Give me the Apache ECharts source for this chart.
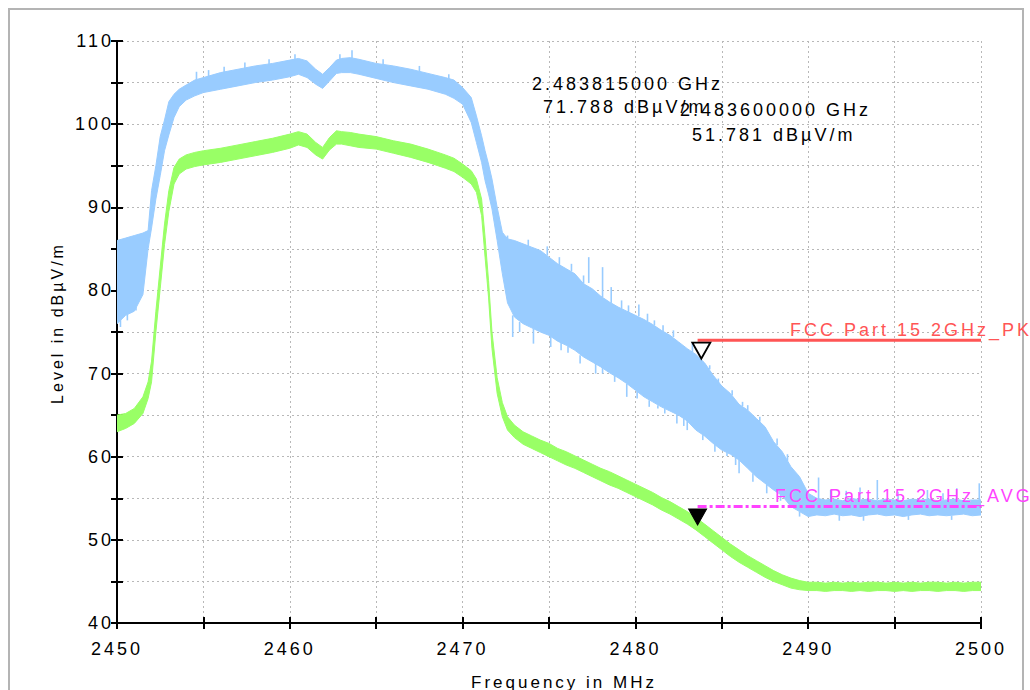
<!DOCTYPE html>
<html>
<head>
<meta charset="utf-8">
<script src="https://cdn.jsdelivr.net/npm/echarts@6/dist/echarts.min.js"></script>
<style>
  html, body { margin: 0; padding: 0; background: #fff; }
  #chart { width: 1030px; height: 690px; }
  #chart text { letter-spacing: 3px; }
</style>
</head>
<body>
<div id="chart"></div>
<script>
// ---- data ----
const freqMHz = [2450, 2450.5, 2451, 2451.5, 2451.8, 2452, 2452.25, 2452.5, 2452.75, 2453, 2453.3, 2453.6, 2454, 2454.5, 2455,
  2456, 2457, 2458, 2459, 2460,
  2460.5, 2461, 2461.5, 2461.9, 2462.3, 2462.7, 2463, 2463.5, 2464,
  2465, 2466, 2467, 2468, 2469,
  2469.5, 2470, 2470.5, 2470.8, 2471.1, 2471.3, 2471.5, 2471.7, 2472, 2472.3, 2472.6,
  2473, 2473.5, 2474, 2474.5, 2475, 2475.5, 2476, 2476.5, 2477, 2477.5, 2478, 2478.5, 2479, 2479.5, 2480,
  2480.5, 2481, 2481.5, 2482, 2482.5, 2483, 2483.5, 2484, 2484.5, 2485, 2485.5, 2486, 2486.5, 2487, 2487.5,
  2488, 2488.5, 2489, 2489.5, 2490, 2490.5, 2491, 2491.5, 2492, 2492.5, 2493, 2493.5, 2494, 2494.5, 2495,
  2495.5, 2496, 2496.5, 2497, 2497.5, 2498, 2498.5, 2499, 2499.5, 2500];

// Peak trace (blue) envelope
const peakUpper = [86.0, 86.3, 86.6, 86.9, 87.2, 92.0, 95.0, 98.5, 100.5, 102.7, 103.6, 104.2, 104.7, 105.3, 105.6,
  106.2, 106.6, 107.0, 107.3, 107.7,
  107.9, 107.6, 106.6, 106.0, 106.8, 107.7, 107.9, 108.0, 107.8,
  107.3, 107.0, 106.6, 106.1, 105.6,
  105.3, 104.4, 103.2, 101.0, 98.6, 96.8, 95.2, 93.4, 90.0, 87.0, 86.2,
  86.0, 85.6, 85.2, 84.8, 84.0, 83.2, 82.6, 82.0, 80.8, 80.2, 79.3, 78.6, 78.0, 77.5, 77.0,
  76.5, 75.9, 75.2, 74.6, 73.8, 73.0, 72.3, 71.3, 69.8, 68.5, 67.6, 66.3, 65.6, 64.6, 63.6,
  61.8, 60.6, 58.8, 57.6, 55.6, 55.0, 54.8, 54.9, 54.7, 55.0, 54.8, 54.9, 54.7, 54.9, 54.8,
  54.7, 54.9, 54.8, 54.9, 54.7, 54.8, 54.9, 54.7, 54.8, 54.8];
const peakLower = [76.0, 77.0, 77.5, 79.5, 85.0, 87.5, 91.0, 93.8, 96.8, 98.7, 100.8, 102.1, 102.9, 103.4, 103.8,
  104.2, 104.6, 105.0, 105.3, 105.7,
  106.0, 105.6, 104.8, 104.3, 105.2, 106.1, 106.2, 106.2, 106.0,
  105.5, 105.0, 104.6, 104.2, 103.6,
  103.1, 102.4, 100.2, 97.8, 95.4, 93.2, 91.6, 89.8, 86.0, 82.0, 78.5,
  76.8, 76.0, 75.5, 75.0, 74.6, 73.9, 73.4, 72.8, 72.0, 71.4, 70.8, 70.1, 69.5, 68.8, 68.0,
  67.2, 66.6, 66.0, 65.5, 65.0, 64.3, 63.2, 62.5, 61.6, 60.8, 60.3, 59.6, 58.6, 57.6, 56.8,
  56.0, 55.3, 54.0, 53.4, 52.8, 53.0, 52.9, 53.1, 52.9, 53.0, 52.8, 53.0, 53.1, 52.9, 53.0,
  52.8, 53.0, 53.1, 52.9, 53.0, 52.9, 53.0, 53.1, 52.9, 53.0];

// Average trace (green) envelope
const avgUpper = [65.0, 65.2, 65.8, 67.2, 69.0, 71.5, 77.5, 82.8, 88.0, 92.0, 94.8, 95.8, 96.3, 96.6, 96.8,
  97.1, 97.5, 97.9, 98.3, 98.8,
  99.1, 98.8, 97.8, 97.2, 98.4, 99.2, 99.1, 99.0, 98.8,
  98.5, 98.0, 97.6, 97.0, 96.3,
  95.9, 95.2, 94.4, 93.4, 91.0, 86.4, 81.2, 75.0, 69.5, 66.5, 64.8,
  63.8, 63.0, 62.5, 62.0, 61.6, 61.0, 60.6, 60.1, 59.6, 59.1, 58.6, 58.2, 57.7, 57.2, 56.7,
  56.2, 55.7, 55.1, 54.6, 54.0, 53.4, 52.7, 51.9, 51.1, 50.3, 49.5, 48.8, 48.1, 47.5, 46.9,
  46.3, 45.8, 45.4, 45.1, 44.9, 44.9, 44.8, 44.9, 44.8, 44.9, 44.8, 44.9, 44.9, 44.8, 44.9,
  44.8, 44.9, 44.8, 44.9, 44.9, 44.8, 44.9, 44.8, 44.9, 44.9];
const avgLower = [63.0, 63.4, 64.0, 65.2, 67.0, 69.0, 75.0, 80.2, 85.5, 89.5, 92.8, 94.0, 94.6, 94.9, 95.1,
  95.4, 95.8, 96.2, 96.6, 97.1,
  97.5, 97.2, 96.3, 95.8, 96.9, 97.6, 97.6, 97.4, 97.2,
  97.0, 96.5, 96.0, 95.4, 94.7,
  94.3, 93.6, 92.8, 91.8, 89.0, 84.0, 79.2, 73.0, 67.6, 64.8, 63.2,
  62.3, 61.5, 61.0, 60.5, 60.0, 59.5, 59.0, 58.6, 58.1, 57.6, 57.1, 56.6, 56.2, 55.7, 55.2,
  54.7, 54.2, 53.6, 53.1, 52.5, 51.9, 51.2, 50.4, 49.6, 48.8, 48.0, 47.3, 46.7, 46.1, 45.5,
  45.0, 44.6, 44.2, 44.0, 43.9, 43.9, 43.8, 43.9, 43.9, 43.8, 43.9, 43.8, 43.9, 43.9, 43.8,
  43.9, 43.8, 43.9, 43.9, 43.8, 43.9, 43.9, 43.8, 43.9, 43.9];

// Visible spikes of the peak trace: [MHz, from dB, to dB]
const peakSpikes = [
  [2450.2, 76.5, 75.6], [2450.6, 77.2, 76.4], [2451.1, 78.0, 77.6],
  [2454.6, 105.2, 106.3], [2455.3, 105.6, 106.5], [2456.2, 106.0, 106.9], [2457.4, 106.6, 107.4],
  [2458.8, 107.0, 107.8], [2460.3, 107.6, 108.4], [2462.9, 107.8, 108.4], [2463.6, 107.9, 108.9],
  [2465.4, 107.1, 107.8], [2467.5, 106.3, 107.0], [2469.2, 105.4, 106.0],
  [2472.6, 86.0, 86.6], [2473.8, 85.3, 86.1], [2474.9, 84.2, 85.3], [2475.6, 83.0, 84.0],
  [2476.3, 82.3, 83.2], [2477.0, 80.8, 81.8], [2477.3, 80.9, 84.0], [2478.1, 79.2, 82.8],
  [2478.6, 78.5, 80.4], [2479.2, 77.8, 78.8], [2479.6, 77.4, 78.2], [2480.2, 76.9, 78.3],
  [2480.7, 76.3, 77.2], [2481.1, 75.8, 76.4], [2481.6, 75.1, 75.8], [2482.2, 74.4, 75.2],
  [2483.3, 72.6, 73.8], [2483.7, 72.4, 73.4], [2484.3, 70.5, 71.0], [2484.8, 68.6, 69.4],
  [2485.6, 67.4, 68.0], [2486.2, 66.1, 66.6], [2486.5, 65.6, 66.2], [2487.2, 64.2, 64.8],
  [2488.2, 61.4, 62.2], [2488.8, 59.5, 60.3],
  [2490.6, 54.9, 57.5], [2491.3, 54.8, 56.0], [2492.2, 54.8, 55.9], [2493.0, 54.8, 56.3],
  [2494.0, 54.8, 57.2], [2495.2, 54.8, 55.8], [2496.9, 54.8, 56.0], [2497.8, 54.8, 55.6],
  [2498.6, 54.8, 56.2], [2499.9, 54.8, 56.8],
  [2472.9, 77.0, 74.4], [2473.3, 76.2, 75.0], [2474.1, 75.4, 73.6], [2475.1, 74.5, 73.2],
  [2475.7, 73.7, 72.8], [2476.1, 73.3, 72.5], [2476.8, 72.2, 71.2], [2477.7, 71.2, 70.0],
  [2478.1, 71.0, 70.0], [2478.8, 69.8, 69.0], [2479.5, 68.8, 67.2], [2480.1, 67.9, 67.0],
  [2480.8, 66.8, 66.0], [2481.3, 66.2, 65.8], [2481.7, 65.8, 65.2], [2482.4, 65.1, 64.0],
  [2482.8, 64.6, 63.7], [2483.0, 64.3, 63.2], [2483.9, 62.6, 62.0], [2484.6, 61.4, 60.6],
  [2485.3, 60.5, 60.1], [2485.8, 59.9, 59.0], [2486.0, 59.6, 58.0], [2486.8, 58.0, 57.0],
  [2487.6, 56.6, 55.6], [2488.4, 55.4, 54.7], [2489.5, 53.4, 52.8],
  [2491.8, 53.0, 52.3], [2493.2, 52.9, 52.3], [2495.8, 52.9, 52.4], [2498.3, 52.9, 52.4]
];

// Limit lines
const pkLimitFreq = [2483.6, 2500];
const pkLimitLevel = [74, 74];
const avgLimitFreq = [2483.6, 2500];
const avgLimitLevel = [54, 54];

// Markers
const peakMarker = [2483.815, 71.788];
const avgMarker = [2483.6, 51.781];

// Axis setup
const xMin = 2450, xMax = 2500, xStep = 5;
const yMin = 40, yMax = 110, yStep = 5;

// ---- chart ----
const FONT = '"Liberation Sans", Arial, sans-serif';
const BLUE = '#99ccff', GREEN = '#99ff66';
const chart = echarts.init(document.getElementById('chart'), null, { renderer: 'svg' });

function bandRenderer(lower, upper, color) {
  return function (params, api) {
    const pts = [];
    for (let i = 0; i < freqMHz.length; i++) pts.push(api.coord([freqMHz[i], upper[i]]));
    for (let i = freqMHz.length - 1; i >= 0; i--) pts.push(api.coord([freqMHz[i], lower[i]]));
    return { type: 'polygon', shape: { points: pts }, style: { fill: color, stroke: color, lineWidth: 1 } };
  };
}

const gridPos = { left: 117, right: 49, top: 41, bottom: 67, outerBoundsMode: 'none' };
const tickFmt = (v) => (Math.round(v) % 10 === 0 ? String(Math.round(v)) : '');

const option = {
  animation: false,
  backgroundColor: '#fff',
  grid: [Object.assign({}, gridPos), Object.assign({}, gridPos)],
  xAxis: [
    {
      type: 'value', gridIndex: 0, min: xMin, max: xMax, interval: xStep,
      name: 'Frequency in MHz', nameLocation: 'middle', nameGap: 51,
      nameTextStyle: { fontSize: 17, color: '#000', fontFamily: FONT, padding: [0, 0, 0, 30] },
      axisLine: { lineStyle: { color: '#000', width: 2 } },
      axisTick: { length: 6, lineStyle: { color: '#000', width: 2 } },
      axisLabel: { formatter: tickFmt, fontSize: 18, color: '#000', fontFamily: FONT, margin: 17 },
      splitLine: { show: true, lineStyle: { type: [2, 3], color: '#b8b8b8', width: 1 } }
    },
    {
      type: 'value', gridIndex: 1, min: xMin, max: xMax, interval: xStep,
      axisLine: { show: false },
      axisTick: { inside: true, length: 6, lineStyle: { color: '#000', width: 2 } },
      axisLabel: { show: false }, splitLine: { show: false }
    }
  ],
  yAxis: [
    {
      type: 'value', gridIndex: 0, min: yMin, max: yMax, interval: yStep,
      name: 'Level in dBµV/m', nameLocation: 'middle', nameGap: 52,
      nameTextStyle: { fontSize: 16, color: '#000', fontFamily: FONT, padding: [0, 0, 0, 18] },
      axisLine: { lineStyle: { color: '#000', width: 2 } },
      axisTick: { length: 6, lineStyle: { color: '#000', width: 2 } },
      axisLabel: { formatter: tickFmt, fontSize: 18, color: '#000', fontFamily: FONT, margin: 3 },
      splitLine: { show: true, lineStyle: { type: [2, 3], color: '#b8b8b8', width: 1 } }
    },
    {
      type: 'value', gridIndex: 1, min: yMin, max: yMax, interval: yStep,
      axisLine: { show: false },
      axisTick: { inside: true, length: 6, lineStyle: { color: '#000', width: 2 } },
      axisLabel: { show: false }, splitLine: { show: false }
    }
  ],
  series: [
    {
      name: 'Peak', type: 'custom', xAxisIndex: 0, yAxisIndex: 0, silent: true, clip: true,
      data: [[freqMHz[0], peakLower[0]]], renderItem: bandRenderer(peakLower, peakUpper, BLUE), z: 2
    },
    {
      name: 'Peak spikes', type: 'custom', xAxisIndex: 0, yAxisIndex: 0, silent: true, clip: true,
      data: peakSpikes, encode: { x: 0, y: [1, 2] }, z: 2,
      renderItem: function (params, api) {
        const a = api.coord([api.value(0), api.value(1)]);
        const b = api.coord([api.value(0), api.value(2)]);
        return { type: 'line', shape: { x1: a[0], y1: a[1], x2: b[0], y2: b[1] }, style: { stroke: BLUE, lineWidth: 1.6 } };
      }
    },
    {
      name: 'Average', type: 'custom', xAxisIndex: 0, yAxisIndex: 0, silent: true, clip: true,
      data: [[freqMHz[0], avgLower[0]]], renderItem: bandRenderer(avgLower, avgUpper, GREEN), z: 3
    },
    {
      name: 'FCC Part 15 2GHz_PK', type: 'line', symbol: 'none', silent: true, z: 4,
      data: pkLimitFreq.map((f, i) => [f, pkLimitLevel[i]]),
      lineStyle: { color: '#ff5555', width: 3 }
    },
    {
      name: 'FCC Part 15 2GHz_AVG', type: 'line', symbol: 'none', silent: true, z: 4,
      data: avgLimitFreq.map((f, i) => [f, avgLimitLevel[i]]),
      lineStyle: { color: '#ff44ff', width: 3, type: [9, 3, 3, 3] }
    },
    {
      type: 'scatter', silent: true, z: 6, data: [peakMarker],
      symbol: 'triangle', symbolRotate: 180, symbolSize: [18, 16], symbolOffset: [0, -8],
      itemStyle: { color: '#fff', borderColor: '#000', borderWidth: 1.8, opacity: 1 }
    },
    {
      type: 'scatter', silent: true, z: 6, data: [avgMarker],
      symbol: 'triangle', symbolRotate: 180, symbolSize: [18, 16], symbolOffset: [0, -8],
      itemStyle: { color: '#000', borderColor: '#000', borderWidth: 1, opacity: 1 }
    }
  ],
  graphic: [
    { type: 'rect', z: 0, silent: true, shape: { x: 9, y: 9, width: 1014, height: 720 },
      style: { fill: 'none', stroke: '#b4b4b4', lineWidth: 2 } },
    { type: 'text', z: 100, x: 532, y: 84, style: { text: '2.483815000 GHz', fontSize: 18, fontFamily: FONT, fill: '#000', verticalAlign: 'middle' } },
    { type: 'text', z: 100, x: 543, y: 107, style: { text: '71.788 dBµV/m', fontSize: 18, fontFamily: FONT, fill: '#000', verticalAlign: 'middle' } },
    { type: 'text', z: 100, x: 680, y: 110, style: { text: '2.483600000 GHz', fontSize: 18, fontFamily: FONT, fill: '#000', verticalAlign: 'middle' } },
    { type: 'text', z: 100, x: 692, y: 135, style: { text: '51.781 dBµV/m', fontSize: 18, fontFamily: FONT, fill: '#000', verticalAlign: 'middle' } },
    { type: 'text', z: 100, x: 790, y: 330, style: { text: 'FCC Part 15 2GHz_PK', fontSize: 18, fontFamily: FONT, fill: '#ff5555', verticalAlign: 'middle' } },
    { type: 'text', z: 100, x: 775, y: 496, style: { text: 'FCC Part 15 2GHz_AVG', fontSize: 18, fontFamily: FONT, fill: '#ff44ff', verticalAlign: 'middle' } }
  ]
};
chart.setOption(option);
</script>
</body>
</html>
